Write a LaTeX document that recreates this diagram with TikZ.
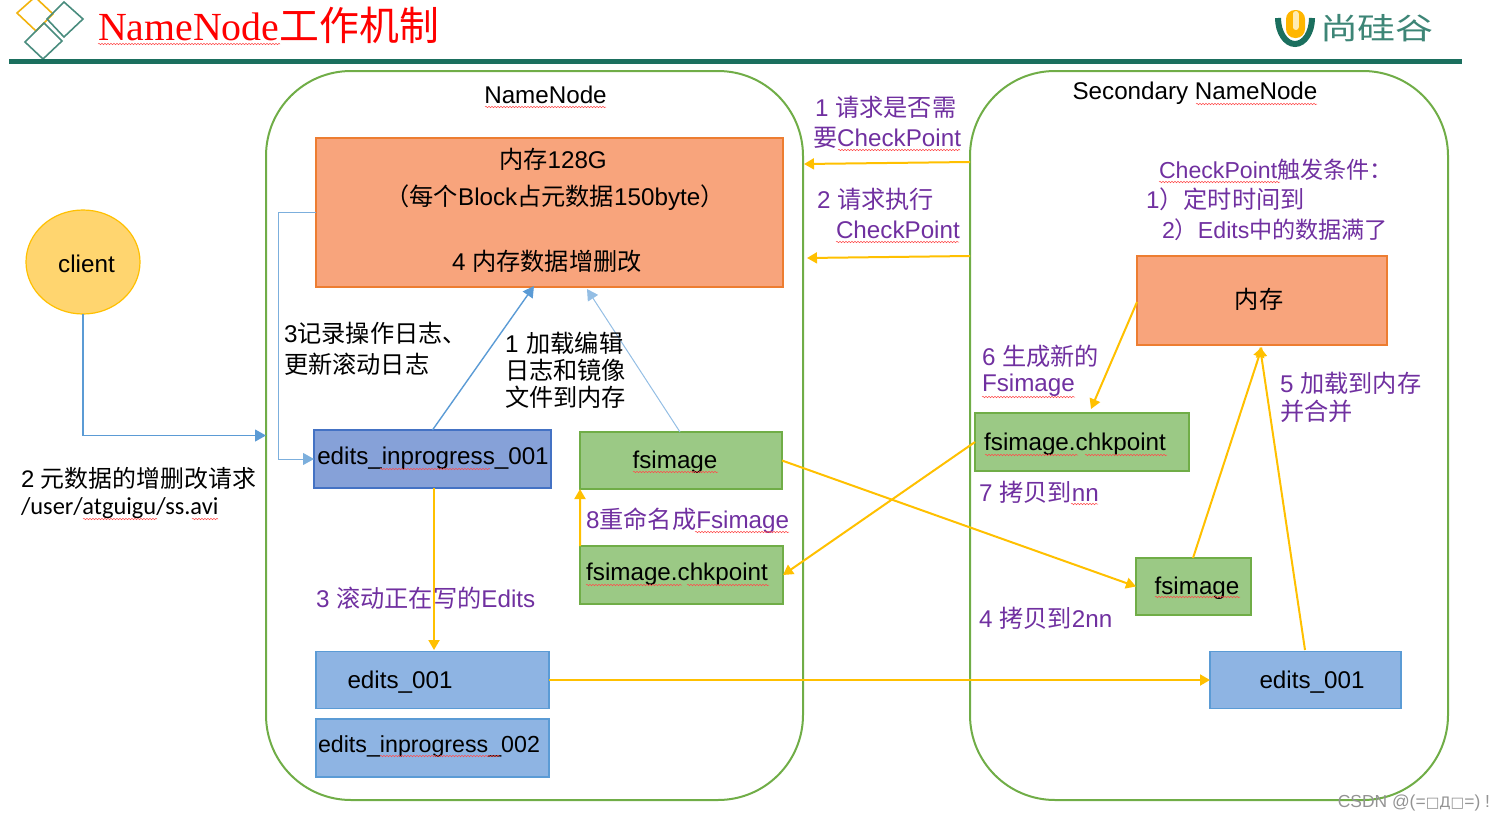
\documentclass[tikz,border=0pt]{standalone}
\usepackage{fontspec}
\setmainfont{Liberation Sans}
\newfontfamily\cjk{Noto Sans CJK SC}
\newfontfamily\tser{Liberation Serif}
\newfontfamily\djv{DejaVu Sans}
\newfontfamily\carl{Carlito}
\newcommand{\zh}[1]{{\cjk #1}}
\usetikzlibrary{arrows.meta,decorations.pathmorphing,calc,shapes.geometric}
\definecolor{purp}{HTML}{7030A0}
\definecolor{ygold}{HTML}{FFC000}
\definecolor{lblue}{HTML}{5B9BD5}
\definecolor{dgreen}{HTML}{1B6F5E}
\definecolor{cgreen}{HTML}{70AD47}
\definecolor{orfill}{HTML}{F8A47C}
\definecolor{orline}{HTML}{ED7D31}
\definecolor{eifill}{HTML}{86A1D8}
\definecolor{eiline}{HTML}{4472C4}
\definecolor{gfill}{HTML}{9BC985}
\definecolor{bfill}{HTML}{8EB4E3}
\definecolor{clfill}{HTML}{FFD56F}
\tikzset{
 x=1bp,y=-1bp,
 every node/.style={inner sep=0pt,outer sep=0pt},
 txt/.style={font=\fontsize{24.3}{28}\selectfont},
 lab/.style={txt,anchor=west,text=black,align=left},
 plab/.style={lab,text=purp},
 container/.style={draw=cgreen,line width=2bp,rounded corners=85bp},
 yarrow/.style={draw=ygold,line width=2bp,-{Triangle[length=10bp,width=11bp]}},
 barrow/.style={draw=lblue,line width=1.4bp,-{Triangle[length=11bp,width=12bp]}},
 bthin/.style={draw=lblue!65,line width=1bp,-{Triangle[length=11bp,width=12bp]}},
 wav/.style={draw=red!70,line width=.5bp,decorate,decoration={snake,amplitude=.7bp,segment length=3bp}},
}
\newcommand{\sq}[3]{\draw[wav] (#1,#3) -- (#2,#3);}
\newcommand{\rbox}[7]{\node[draw=#6,fill=#7,line width=1.2bp,minimum width=#4bp,minimum height=#5bp] (#1) at (#2,#3) {};}
\begin{document}
\begin{tikzpicture}
\useasboundingbox (0,0) rectangle (1503,823);
% header
\begin{scope}
\clip (0,0) rectangle (1503,823);
\draw[color=ygold!80!brown,line width=1.6bp] (17,13) -- (35,-3) -- (53,14) -- (36,31) -- cycle;
\end{scope}
\draw[color=dgreen!80,line width=1.6bp] (47,19) -- (64,2) -- (83,19) -- (64,37) -- cycle;
\draw[color=dgreen!80,line width=1.6bp] (25,42) -- (44,23) -- (62,41) -- (43,59) -- cycle;
\draw[color=dgreen,line width=5bp] (9,61) -- (1462,61);
\node[anchor=west,text=red,font=\fontsize{40}{44}\selectfont] (title) at (98,25) {{\tser NameNode}\zh{工作机制}};
% logo
\draw[color=dgreen,line width=6bp] (1278,18) arc[start angle=180,end angle=0,x radius=17,y radius=26];
\fill[color=ygold!85!orange,rounded corners=9bp] (1286,10) rectangle (1305,38);
\draw[color=ygold!30!white,line width=6bp,line cap=round] (1295.5,14) -- (1295.5,27);
\node[anchor=west,text=dgreen!85,xscale=1.27,font=\fontsize{30}{32}\selectfont] (brand) at (1320,28) {\zh{尚硅谷}};
% containers
\draw[container] (266,71) rectangle (803,800);
\coordinate (nnw) at (266,435.5);
\draw[container] (970,71) rectangle (1448,800);
\node[txt] (nnt) at (545.5,95) {NameNode};
\node[txt] (snt) at (1195,93) {Secondary NameNode};
% boxes
\node[draw=ygold,fill=clfill,line width=1.2bp,ellipse,minimum width=114bp,minimum height=104bp] (client) at (83,262) {};
\node[txt] (clt) at (86.5,264) {client};
\rbox{mem}{549.5}{212.5}{467}{149}{orline}{orfill}
\node[txt] (m1) at (553,159) {\zh{内存}128G};
\node[txt] (m2) at (555,198) {\zh{（每个}Block\zh{占元数据}150byte\zh{）}};
\node[txt] (m3) at (547,261) {4 \zh{内存数据增删改}};
\rbox{ei}{432.5}{459}{237}{58}{eiline}{eifill}
\node[txt] (eit) at (433,458) {edits\_inprogress\_001};
\rbox{fs}{681}{460.5}{202}{57}{cgreen}{gfill}
\node[txt] (fst) at (675,462) {fsimage};
\rbox{fc}{681.5}{575}{203}{58}{cgreen}{gfill}
\node[txt] (fct) at (677,574) {fsimage.chkpoint};
\rbox{e1}{432.5}{680}{233}{57}{lblue}{bfill}
\node[txt] (e1t) at (400,682) {edits\_001};
\rbox{e2}{432.5}{748}{233}{58}{lblue}{bfill}
\node[txt,font=\fontsize{23.3}{28}\selectfont] (e2t) at (429,746) {edits\_inprogress\_002};
\rbox{smem}{1262}{300.5}{250}{89}{orline}{orfill}
\node[txt] (smt) at (1259,299) {\zh{内存}};
\rbox{sfc}{1082}{442}{214}{58}{cgreen}{gfill}
\node[txt] (sfct) at (1075,444) {fsimage.chkpoint};
\rbox{sfs}{1193.5}{586.5}{115}{57}{cgreen}{gfill}
\node[txt] (sfst) at (1197,588) {fsimage};
\rbox{se1}{1305.5}{680}{191}{57}{lblue}{bfill}
\node[txt] (se1t) at (1312,682) {edits\_001};
% connectors
\draw[barrow,line width=1.1bp] (client.south) |- (nnw);
\draw[bthin,draw=lblue!80] (mem.west |- 0,212) -- (278,212) -- (278,459) -- (ei.west);
\draw[barrow] (ei.north) -- (534,286);
\draw[bthin] (680,432) -- (587,289);
\draw[yarrow] (434,488) -- (434,650);
\draw[yarrow] (fc.north west) -- (fs.south west);
\draw[yarrow] (fs.east) -- (sfs.west);
\draw[yarrow] (sfc.west) -- (fc.east);
\draw[yarrow] (e1.east) -- (se1.west);
\draw[yarrow] (970,162) -- (804,164);
\draw[yarrow] (970,256) -- (807,258);
\draw[yarrow] (1137,302) -- (1091,409);
\draw[yarrow] (1193,558) -- (1262,347);
\draw[yarrow] (1305,650) -- (1260,347);
% labels
\node[plab] (l1) at (815,107) {1 \zh{请求是否需}};
\node[plab] (l1b) at (813,138) {\zh{要}CheckPoint};
\node[plab] (l2) at (817,199) {2 \zh{请求执行}};
\node[plab] (l2b) at (836,230) {CheckPoint};
\node[plab,font=\fontsize{23.2}{28}\selectfont] (c1) at (1159,170) {CheckPoint\zh{触发条件：}};
\node[plab] (c2) at (1146,199) {1\zh{）定时时间到}};
\node[plab,font=\fontsize{23.2}{28}\selectfont] (c3) at (1162,230) {2\zh{）}Edits\zh{中的数据满了}};
\node[plab] (l6) at (982,356) {6 \zh{生成新的}};
\node[plab] (l6b) at (982,385) {Fsimage};
\node[plab] (l5) at (1280,383) {5 \zh{加载到内存}};
\node[plab] (l5b) at (1280,411) {\zh{并合并}};
\node[plab] (l7) at (979,492) {7 \zh{拷贝到}nn};
\node[plab] (l4) at (979,618) {4 \zh{拷贝到}2nn};
\node[plab] (l8) at (586,521) {8\zh{重命名成}Fsimage};
\node[plab] (l3) at (316,598) {3 \zh{滚动正在写的}Edits};
\node[lab] (r1) at (284,333) {3\zh{记录操作日志、}};
\node[lab] (r2) at (284,364) {\zh{更新滚动日志}};
\node[lab] (a1) at (505,343) {1\,\,\zh{加载编辑}};
\node[lab] (a2) at (505,370) {\zh{日志和镜像}};
\node[lab] (a3) at (505,397) {\zh{文件到内存}};
\node[lab,font=\fontsize{24}{28}\selectfont] (u1) at (21,478) {2 \zh{元数据的增删改请求}};
\node[lab,font=\carl\fontsize{24.5}{28}\selectfont] (u2) at (21,508) {/user/atguigu/ss.avi};
\node[anchor=east,text=gray!85,font=\fontsize{17.5}{22}\selectfont] (wm) at (1490,803) {CSDN @(=\raisebox{0pt}{\djv\fontsize{14.5}{16}\selectfont □Д□}=) !};
% spell-check squiggles
\sq{98}{280}{44}
\sq{485}{606}{107}
\sq{1196}{1317}{104}
\sq{838}{960}{150}
\sq{836}{959}{242}
\sq{1159}{1280}{182}
\sq{982}{1075}{397}
\sq{1071}{1098}{504}
\sq{695}{789}{532}
\sq{985}{1078}{455}
\sq{1085}{1167}{455}
\sq{586}{682}{585}
\sq{687}{769}{585}
\sq{633}{718}{472}
\sq{1155}{1240}{597}
\sq{380}{490}{469}
\sq{380}{500}{756}
\sq{83}{157}{519}
\sq{192}{218}{519}
\end{tikzpicture}
\end{document}
